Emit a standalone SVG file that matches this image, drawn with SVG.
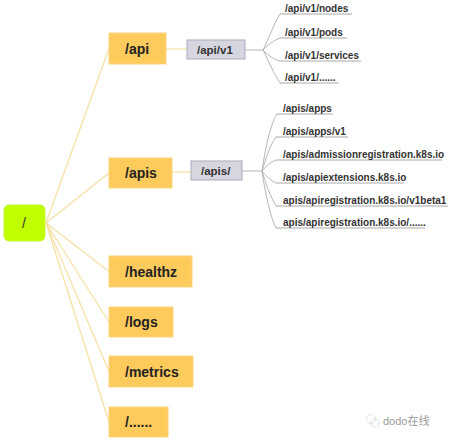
<svg xmlns="http://www.w3.org/2000/svg" width="456" height="440" viewBox="0 0 456 440">
<style>
.main rect{fill:#fdca5c;stroke:#fbd580;stroke-width:1}
.main text{font-family:"Liberation Sans",Arial,sans-serif;font-weight:bold;font-size:14px;fill:#222}
.sub rect{fill:#d6d6e0;stroke:#a9a9bb;stroke-width:1}
.sub text{font-family:"Liberation Sans",Arial,sans-serif;font-weight:bold;font-size:11.5px;fill:#333}
.leaf text{font-family:"Liberation Sans",Arial,sans-serif;font-weight:bold;font-size:10px;fill:#333}
.leaf line{stroke:#a8a8a8;stroke-width:1}
.y{stroke:#f6dfa0;stroke-width:1.2;fill:none}
.g{stroke:#b5b5bd;stroke-width:1;fill:none}
</style>
<rect width="456" height="440" fill="#fff"/>
<g id="connectors">
<path class="y" d="M46,223 L109,48.5"/>
<path class="y" d="M46,223 L109,173"/>
<path class="y" d="M46,223 L109,271.5"/>
<path class="y" d="M46,223 L109,322"/>
<path class="y" d="M46,223 L109,371.5"/>
<path class="y" d="M46,223 L109,422"/>
<path class="y" d="M166,49 L187,49"/>
<path class="y" d="M172,172 L191,172"/>
<path class="g" d="M245,50 L263,50"/>
<path class="g" d="M263,50 C268,40 274,24 280,14"/>
<path class="g" d="M263,50 C268,45 274,40 280,38"/>
<path class="g" d="M263,50 C268,55 274,60 280,61"/>
<path class="g" d="M263,50 C268,60 274,74 280,83"/>
<path class="g" d="M242,171 L262,171"/>
<path class="g" d="M262,171 C265,150 270,125 277,114"/>
<path class="g" d="M262,171 C266,158 270,145 276,137"/>
<path class="g" d="M262,171 C266,166 270,162 276,160"/>
<path class="g" d="M262,171 C266,176 270,180 276,183"/>
<path class="g" d="M262,171 C266,184 270,196 276,206"/>
<path class="g" d="M262,171 C265,192 270,216 276,228"/>
</g>
<g id="root">
<rect x="4" y="205" width="41" height="36" rx="5" fill="#c0ff00" stroke="#c8f530"/>
<text x="22" y="228" font-family="Liberation Sans,Arial,sans-serif" font-size="14" fill="#333">/</text>
</g>
<g id="n-api" class="main"><rect x="109" y="33" width="57" height="31"/><text x="125" y="54">/api</text></g>
<g id="n-apis" class="main"><rect x="109" y="158" width="63" height="30"/><text x="125" y="178">/apis</text></g>
<g id="n-healthz" class="main"><rect x="109" y="256" width="83" height="31"/><text x="125" y="277">/healthz</text></g>
<g id="n-logs" class="main"><rect x="109" y="307" width="64" height="30"/><text x="125" y="327">/logs</text></g>
<g id="n-metrics" class="main"><rect x="109" y="356" width="84" height="31"/><text x="125" y="377">/metrics</text></g>
<g id="n-more" class="main"><rect x="109" y="407" width="59" height="30"/><text x="125" y="427">/......</text></g>
<g id="n-apiv1" class="sub"><rect x="187" y="40" width="58" height="19"/><text x="197" y="54">/api/v1</text></g>
<g id="n-apisslash" class="sub"><rect x="191" y="161" width="51" height="19"/><text x="201" y="175">/apis/</text></g>
<g id="l-nodes" class="leaf"><line x1="280" y1="14" x2="352" y2="14"/><text x="285" y="12">/api/v1/nodes</text></g>
<g id="l-pods" class="leaf"><line x1="280" y1="38" x2="347" y2="38"/><text x="285" y="36">/api/v1/pods</text></g>
<g id="l-services" class="leaf"><line x1="280" y1="61" x2="361" y2="61"/><text x="285" y="59">/api/v1/services</text></g>
<g id="l-v1more" class="leaf"><line x1="280" y1="83" x2="339" y2="83"/><text x="285" y="81">/api/v1/......</text></g>
<g id="l-apps" class="leaf"><line x1="277" y1="114" x2="333" y2="114"/><text x="283" y="112">/apis/apps</text></g>
<g id="l-appsv1" class="leaf"><line x1="276" y1="137" x2="348" y2="137"/><text x="283" y="135">/apis/apps/v1</text></g>
<g id="l-admission" class="leaf"><line x1="276" y1="160" x2="442" y2="160"/><text x="283" y="158">/apis/admissionregistration.k8s.io</text></g>
<g id="l-apiext" class="leaf"><line x1="276" y1="183" x2="404" y2="183"/><text x="283" y="181">/apis/apiextensions.k8s.io</text></g>
<g id="l-v1beta1" class="leaf"><line x1="276" y1="206" x2="448" y2="206"/><text x="283" y="204">apis/apiregistration.k8s.io/v1beta1</text></g>
<g id="l-regmore" class="leaf"><line x1="276" y1="228" x2="425" y2="228"/><text x="283" y="226">apis/apiregistration.k8s.io/......</text></g>
<g id="watermark">
<circle cx="371" cy="419" r="4.5" fill="none" stroke="#c8c8c8" stroke-width="0.8" stroke-dasharray="1.5,1"/>
<circle cx="375" cy="423" r="4" fill="none" stroke="#bdbdbd" stroke-width="0.8" stroke-dasharray="1.5,1"/>
<text x="383" y="425" font-family="Liberation Sans,Noto Sans CJK SC,sans-serif" font-size="11" fill="#9a9a9a">dodo在线</text>
</g>
</svg>
